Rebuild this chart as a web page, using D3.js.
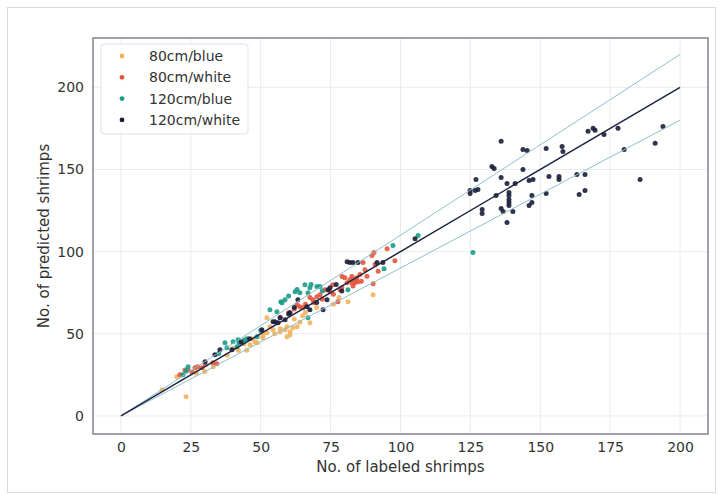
<!DOCTYPE html>
<html>
<head>
<meta charset="utf-8">
<script src="https://cdn.jsdelivr.net/npm/d3@7"></script>
<style>
  body { margin: 0; background: #fff; }
  svg { display: block; font-family: "DejaVu Sans", sans-serif; }
</style>
</head>
<body>
<svg id="chart" width="723" height="495"></svg>
<script>
// series: [labeled, predicted]
const blue80 = [
  [23.3, 11.6], [14.7, 15.9], [20.0, 23.8], [21.8, 25.0], [27, 26], [30, 27], [33, 30],
  [38, 37], [40, 41], [44, 44], [45, 40], [47, 47], [46.2, 43.3], [48.7, 44.5],
  [50.8, 47.6], [52.2, 50.6], [54.4, 52.4], [56.9, 51.2], [58.7, 52.4], [59.4, 48.2],
  [60.5, 49.4], [59.4, 54.3], [60.5, 51.2], [61.5, 53.7], [63.0, 54.3], [67.6, 56.7],
  [53.3, 54.3], [52.2, 59.8], [50.8, 49.4], [62, 59], [65, 61], [66, 63], [70, 66],
  [76, 68], [78, 72], [81.2, 69.5], [90.2, 73.8], [55, 50], [57, 53], [64, 57],
  [48, 45], [42, 40]
];
const white80 = [
  [26.5, 29.3], [27.5, 29.9], [29.0, 29.3], [30.1, 31.1], [24.0, 28.0], [21.1, 25.0],
  [32.9, 32.3], [34.3, 31.7], [25.4, 26.8], [22.9, 28.0], [63.0, 67.7], [64.0, 66.5],
  [65.1, 65.9], [68.7, 70.7], [70.1, 72.6], [77.6, 69.5], [79.1, 84.8], [80.1, 84.1],
  [81.9, 82.9], [82.6, 84.8], [83.7, 82.9], [84.4, 84.1], [80.9, 81.1], [82.6, 81.1],
  [83.7, 81.1], [84.8, 81.7], [90.2, 80.5], [86.6, 93.3], [90.9, 92.1], [90.5, 99.4],
  [89.8, 97.6], [95.2, 101.8], [98.0, 94.5], [75.8, 79.9], [71.2, 73.8], [73.0, 76.8],
  [67.6, 72.0], [74.8, 75.6], [78.4, 76.8], [85.5, 86.0], [87.3, 89.0], [60, 63], [57, 60],
  [62, 65], [66, 68], [69, 69], [72, 71], [76, 74], [79, 78], [83, 79], [86, 82],
  [88, 85], [92, 88]
];
const blue120 = [
  [24.0, 29.9], [23.3, 27.4], [22.2, 25.0], [37.2, 44.5], [40.1, 45.1], [41.9, 46.3],
  [42.2, 44.5], [41.5, 42.1], [37.9, 41.5], [62.3, 75.6], [57.2, 69.5], [57.6, 68.9],
  [55.8, 63.4], [66.9, 59.8], [48.7, 48.2], [71.2, 78.7], [70.1, 78.7], [67.6, 78.0],
  [66.9, 75.0], [81.2, 76.8], [94.1, 89.6], [97.3, 103.7], [106.3, 109.8], [125.9, 99.4],
  [58.7, 70.7], [64.0, 75.0], [53.3, 64.6], [65.8, 79.9], [35, 38], [44, 46],
  [60, 73], [63, 77], [68, 80], [72, 76], [45, 47], [50, 52]
];
const white120 = [
  [35.4, 40.2], [39.7, 40.2], [33.6, 37.2], [30.1, 32.9], [60.5, 62.8], [54.4, 57.3],
  [50.4, 52.4], [63.3, 70.7], [56.9, 59.8], [55.1, 57.3], [56.2, 56.7], [58.7, 58.5],
  [66.5, 66.5], [67.6, 64.6], [72.3, 64.6], [73.7, 70.7], [74.8, 78.0], [74.1, 76.8],
  [80.9, 93.9], [81.9, 93.3], [83.0, 93.3], [84.8, 93.3], [91.6, 93.3], [93.7, 93.3],
  [105.2, 107.9], [60, 62], [62, 66], [70, 69], [77, 80], [79, 76], [43, 45], [46, 47],
  [136.0, 167.1], [127.0, 143.9], [124.9, 137.2], [124.9, 135.4], [126.7, 137.2],
  [127.7, 137.8], [132.7, 151.8], [133.5, 150.6], [136.0, 145.1], [134.2, 134.1],
  [129.2, 125.6], [129.2, 123.2], [136.0, 126.2], [136.7, 124.4], [140.2, 124.4],
  [138.1, 117.7], [138.1, 141.5], [141.0, 141.5], [138.8, 136.0], [138.8, 134.1],
  [138.8, 131.7], [138.8, 129.9], [138.8, 128.0], [143.8, 162.2], [145.3, 161.6],
  [143.8, 150.0], [146.0, 143.3], [147.4, 143.9], [147.0, 134.1], [146.0, 128.0],
  [147.0, 129.9], [152.1, 162.8], [153.1, 145.7], [152.1, 135.4], [156.7, 145.7],
  [156.7, 143.9], [157.8, 164.0], [158.1, 161.0], [163.1, 147.0], [166.0, 147.0],
  [163.9, 134.8], [166.0, 137.2], [167.1, 173.2], [168.9, 175.0], [169.6, 173.8],
  [172.8, 171.3], [177.8, 175.0], [180.0, 162.2], [185.7, 143.9], [191.1, 165.9],
  [193.9, 176.2]
];

const seriesNames = ["80cm/blue", "80cm/white", "120cm/blue", "120cm/white"];
const seriesColors = ["#f2b35c", "#e3553b", "#1a9b87", "#1b1e3a"];
const seriesData = [blue80, white80, blue120, white120];

const xTicks = [0, 25, 50, 75, 100, 125, 150, 175, 200];
const yTicks = [0, 50, 100, 150, 200];
const refLines = [
  { k: 1.1, color: "#8fc0cd", width: 1 },
  { k: 0.9, color: "#8fc0cd", width: 1 },
  { k: 1.0, color: "#1f2542", width: 1.5 }
];

const svg = d3.select("#chart");
const margin = { left: 93, right: 15, top: 38, bottom: 61 };
const W = 723, H = 495;

// outer image frame
svg.append("rect")
  .attr("x", 7.5).attr("y", 7.5).attr("width", 708).attr("height", 485)
  .attr("fill", "none").attr("stroke", "#d9d9d9").attr("stroke-width", 1);

const x = d3.scaleLinear().domain([-10, 210]).range([margin.left, W - margin.right]);
const y = d3.scaleLinear().domain([-11, 230]).range([H - margin.bottom, margin.top]);

const g = svg.append("g");

// grid
g.selectAll(".gx").data(xTicks).enter().append("line")
  .attr("x1", d => x(d)).attr("x2", d => x(d))
  .attr("y1", margin.top).attr("y2", H - margin.bottom)
  .attr("stroke", "#ebebeb").attr("stroke-width", 1);
g.selectAll(".gy").data(yTicks).enter().append("line")
  .attr("y1", d => y(d)).attr("y2", d => y(d))
  .attr("x1", margin.left).attr("x2", W - margin.right)
  .attr("stroke", "#ebebeb").attr("stroke-width", 1);

// scatter
seriesData.forEach((data, i) => {
  g.append("g").selectAll("circle").data(data).enter().append("circle")
    .attr("cx", d => x(d[0])).attr("cy", d => y(d[1]))
    .attr("r", 2.5)
    .attr("fill", seriesColors[i])
    .attr("opacity", 0.9);
});

// reference lines
refLines.forEach(l => {
  g.append("line")
    .attr("x1", x(0)).attr("y1", y(0))
    .attr("x2", x(200)).attr("y2", y(200 * l.k))
    .attr("stroke", l.color).attr("stroke-width", l.width);
});

// frame
svg.append("rect")
  .attr("x", margin.left).attr("y", margin.top)
  .attr("width", W - margin.left - margin.right)
  .attr("height", H - margin.top - margin.bottom)
  .attr("fill", "none").attr("stroke", "#8a8a95").attr("stroke-width", 1.6);

// axes
const xAxis = svg.append("g")
  .attr("transform", `translate(0,${H - margin.bottom})`)
  .call(d3.axisBottom(x).tickValues(xTicks).tickSize(0).tickPadding(8));
const yAxis = svg.append("g")
  .attr("transform", `translate(${margin.left},0)`)
  .call(d3.axisLeft(y).tickValues(yTicks).tickSize(0).tickPadding(9));
[xAxis, yAxis].forEach(a => {
  a.select(".domain").remove();
  a.selectAll("text").attr("font-size", 14).attr("fill", "#333")
    .attr("font-family", "DejaVu Sans, sans-serif");
});

svg.append("text")
  .attr("x", (margin.left + W - margin.right) / 2).attr("y", 472)
  .attr("text-anchor", "middle").attr("font-size", 15).attr("fill", "#333")
  .text("No. of labeled shrimps");
svg.append("text")
  .attr("transform", `translate(49,${(margin.top + H - margin.bottom) / 2}) rotate(-90)`)
  .attr("text-anchor", "middle").attr("font-size", 15).attr("fill", "#333")
  .text("No. of predicted shrimps");

// legend
const lg = svg.append("g").attr("transform", "translate(101,44)");
lg.append("rect").attr("width", 147).attr("height", 90).attr("rx", 3)
  .attr("fill", "#fff").attr("fill-opacity", 0.85)
  .attr("stroke", "#e0e0e0");
seriesNames.forEach((name, i) => {
  const row = lg.append("g").attr("transform", `translate(0,${12 + i * 21.3})`);
  row.append("circle").attr("cx", 21).attr("cy", 0).attr("r", 2.4)
    .attr("fill", seriesColors[i]);
  row.append("text").attr("x", 48).attr("y", 5)
    .attr("font-size", 14).attr("fill", "#333").text(name);
});
</script>
</body>
</html>
